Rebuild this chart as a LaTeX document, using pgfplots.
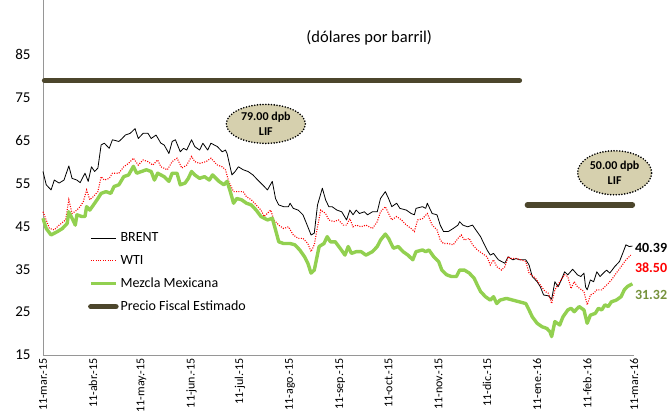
\documentclass[border=0pt]{standalone}
\usepackage{pgfplots}
\pgfplotsset{compat=1.18}
\usepackage{fontspec}
\setmainfont{Carlito}
\usetikzlibrary{shapes.geometric}
\definecolor{fiscal}{RGB}{76,70,44}
\definecolor{mezcla}{RGB}{146,208,80}
\definecolor{mezclatxt}{RGB}{118,146,60}
\definecolor{elfill}{RGB}{214,208,174}
\definecolor{axgray}{RGB}{150,150,150}
\begin{document}
\begin{tikzpicture}
\begin{axis}[
  width=591pt, height=355pt, scale only axis,
  xmin=0, xmax=366, ymin=15, ymax=97.8,
  axis x line=bottom, axis y line=left,
  axis line style={-, draw=axgray, line width=0.8pt},
  major tick length=0pt,
  ytick={15,25,...,85},
  /pgf/number format/assume math mode=true,
  yticklabel style={font=\fontsize{15}{18}\selectfont, xshift=-9pt},
  xtick={0,31,61,92,122,153,184,214,245,275,306,337,366},
  xticklabels={11-mar.-15,11-abr.-15,11-may.-15,11-jun.-15,11-jul.-15,11-ago.-15,11-sep.-15,11-oct.-15,11-nov.-15,11-dic.-15,11-ene.-16,11-feb.-16,11-mar.-16},
  xticklabel style={rotate=90, anchor=east, font=\fontsize{12}{14}\selectfont},
  clip=false,
  legend style={at={(0.076,0.35)}, anchor=north west, draw=none, fill=none,
    font=\fontsize{14}{16}\selectfont, row sep=8pt, inner sep=0pt,
    cells={anchor=west}},
  legend image code/.code={\draw[#1] (0pt,0pt) -- (25pt,0pt);},
]
\addplot[black, line width=0.8pt, line join=round] coordinates {
(0,57.8) (2,54.7) (5,53.5) (7,55.8) (10,55.1) (13,55.8) (16,59.1) (18,56.2) (21,55.8) (23,55.2)
(26,57.4) (28,55.5) (30,58.9) (32,57.8) (34,58.6) (36,64.0) (38,64.4) (41,63.2) (43,65.2) (47,64.8)
(49,65.5) (51,66.3) (54,66.7) (57,67.8) (59,65.5) (62,66.7) (65,66.7) (67,65.5) (70,66.3) (73,64.4)
(75,64.0) (78,62.0) (80,64.8) (82,65.2) (85,62.4) (87,63.2) (89,62.8) (92,65.2) (94,63.6) (97,62.8)
(99,64.4) (102,62.8) (104,64.4) (108,63.6) (111,62.4) (113,62.8) (114,62.0) (117,57.0) (119,57.8) (121,58.9)
(124,58.2) (127,57.8) (130,57.0) (133,55.8) (136,54.7) (139,53.5) (142,55.5) (144,51.5) (146,50.0) (149,49.6)
(152,49.6) (153,50.4) (155,49.2) (158,48.8) (161,47.7) (164,44.9) (166,43.0) (168,43.4) (170,50.0) (173,53.9)
(175,51.2) (177,49.6) (179,49.6) (182,48.8) (185,48.4) (188,46.5) (190,48.8) (192,47.7) (194,48.8) (196,48.0)
(199,48.4) (201,47.7) (204,48.4) (207,48.4) (209,51.5) (212,53.1) (214,51.5) (216,49.6) (219,50.4) (221,49.2)
(225,48.8) (228,48.0) (230,47.7) (231,49.2) (235,49.6) (237,49.2) (238,50.4) (241,48.0) (244,47.7) (246,45.3)
(248,43.8) (251,43.8) (254,44.5) (257,45.3) (258,46.1) (260,45.3) (263,44.9) (266,45.3) (268,44.2) (271,42.6)
(273,41.0) (275,39.5) (277,38.3) (279,38.7) (282,37.2) (286,36.4) (288,37.9) (291,37.2) (293,37.5) (295,37.2)
(299,37.2) (301,36.0) (303,33.3) (306,32.1) (308,30.9) (310,29.0) (313,28.8) (315,28.0) (317,32.1) (319,30.9)
(321,32.5) (323,34.4) (325,33.7) (328,35.0) (331,33.7) (333,33.3) (335,34.1) (336,30.9) (337,30.2) (339,32.5)
(341,32.1) (343,34.4) (345,33.3) (347,34.1) (349,34.8) (351,34.1) (354,35.6) (357,36.8) (359,38.7) (361,40.7)
(363,40.3) (365,40.4)
};
\addlegendentry{BRENT}
\addplot[red, line width=1.1pt, dash pattern=on 1pt off 1.4pt] coordinates {
(0,48.4) (2,46.5) (4,44.5) (7,44.2) (10,45.3) (14,46.5) (16,51.2) (18,48.0) (21,48.8) (23,49.6)
(25,50.8) (27,53.5) (29,51.2) (31,51.9) (34,53.1) (36,56.6) (38,55.8) (41,56.2) (43,57.4) (47,57.4)
(50,58.9) (53,59.7) (56,60.9) (59,59.3) (62,60.5) (65,60.1) (68,59.3) (71,60.5) (73,58.9) (77,58.2)
(80,60.1) (83,60.9) (86,58.6) (89,59.3) (92,61.3) (94,60.1) (97,59.7) (101,60.1) (104,60.9) (108,59.3)
(111,58.9) (113,58.2) (115,55.5) (118,53.1) (121,53.1) (124,53.1) (126,51.9) (129,51.2) (132,50.0) (135,48.8)
(137,47.3) (141,48.8) (143,46.5) (146,45.3) (149,44.5) (152,44.9) (155,43.0) (158,42.2) (161,42.2) (164,41.0)
(166,39.1) (168,40.7) (170,44.9) (172,48.8) (175,48.0) (177,46.5) (180,46.1) (183,46.5) (186,45.3) (188,45.3)
(190,46.8) (192,44.9) (194,45.3) (197,44.9) (200,45.3) (204,44.5) (207,46.1) (209,48.4) (212,49.6) (214,48.0)
(216,46.5) (219,47.3) (222,46.5) (225,45.3) (228,44.5) (230,43.8) (232,46.5) (235,46.8) (238,48.0) (241,45.3)
(244,44.2) (246,41.8) (248,41.0) (251,41.0) (254,40.7) (257,42.2) (259,43.0) (261,41.8) (264,42.2) (266,40.7)
(269,39.5) (272,38.7) (275,37.9) (277,36.0) (279,37.2) (281,35.6) (284,34.8) (286,35.6) (288,37.9) (290,37.5)
(293,37.5) (296,37.2) (299,36.8) (301,34.1) (305,32.9) (308,31.3) (311,29.8) (313,29.4) (315,27.0) (317,30.2)
(320,32.1) (323,33.7) (325,33.3) (327,30.5) (329,32.1) (331,30.9) (335,29.8) (337,26.7) (339,29.0) (341,29.4)
(343,30.2) (346,30.2) (349,31.3) (352,32.5) (355,34.1) (358,35.6) (361,37.2) (364,38.3)
};
\addlegendentry{WTI}
\addplot[mezcla, line width=3.4pt, line join=round] coordinates {
(0,46.9) (2,44.5) (5,43.0) (9,43.8) (12,44.5) (15,45.7) (16,48.4) (18,46.9) (20,45.3) (21,47.7)
(24,47.3) (26,47.3) (27,49.6) (29,48.8) (32,50.4) (34,51.5) (36,52.7) (39,53.1) (42,52.7) (44,54.3)
(47,54.7) (50,56.6) (53,57.0) (56,59.0) (58,57.4) (61,57.8) (64,58.2) (67,57.8) (69,55.8) (71,57.4)
(75,56.6) (78,55.5) (80,57.4) (83,57.4) (85,54.7) (88,55.1) (90,56.2) (92,57.8) (94,57.0) (97,56.2)
(100,56.6) (103,55.8) (105,57.0) (109,55.5) (112,54.7) (114,55.5) (116,53.1) (118,50.4) (120,51.5) (123,51.2)
(126,50.4) (129,50.0) (132,48.8) (135,47.3) (139,46.5) (142,46.9) (144,44.2) (146,41.4) (149,41.0) (153,41.0)
(156,40.7) (159,39.5) (162,37.9) (164,36.4) (166,34.1) (168,34.8) (171,40.3) (174,41.0) (176,42.6) (178,41.4)
(181,41.4) (184,39.9) (187,38.3) (189,40.3) (191,38.7) (194,39.1) (197,39.1) (200,38.3) (204,39.1) (207,40.3)
(209,41.8) (212,43.2) (214,42.2) (217,39.9) (220,40.3) (223,39.1) (226,38.3) (229,37.2) (231,39.1) (235,39.5)
(237,39.1) (239,39.5) (242,37.9) (245,36.8) (247,34.8) (250,33.7) (253,33.3) (256,33.3) (258,34.8) (261,34.8)
(264,34.1) (267,32.9) (269,31.3) (271,29.8) (274,28.6) (277,27.8) (279,28.6) (281,27.0) (283,27.8) (287,28.2)
(291,27.8) (295,27.4) (299,27.0) (301,25.5) (303,23.9) (306,22.4) (309,21.6) (312,21.2) (314,20.4) (315,19.3)
(317,22.8) (320,22.0) (322,23.9) (325,25.5) (327,25.9) (329,25.1) (332,26.3) (335,25.5) (337,22.4) (339,24.3)
(342,24.7) (344,25.9) (346,25.5) (348,26.7) (350,26.3) (352,27.4) (355,27.8) (358,28.6) (360,30.2) (362,31.0)
(365,31.6)
};
\addlegendentry{Mezcla Mexicana}
\addplot[fiscal, line width=5.5pt, line cap=round] coordinates {(1,79) (295,79)};
\addlegendentry{Precio Fiscal Estimado}
\addplot[fiscal, line width=5.5pt, line cap=round, forget plot] coordinates {(300,50) (365,50)};

\node[font=\fontsize{16.5}{19}\selectfont] at (axis cs:202,89) {(dólares por barril)};
\node[ellipse, draw=black, fill=elfill, line width=1.8pt, line cap=round,
  dash pattern=on 0pt off 2.8pt, minimum width=79pt, minimum height=39pt,
  inner sep=0pt, align=center, font=\bfseries\fontsize{12}{15}\selectfont]
  at (axis cs:138,68.9) {79.00 dpb\\LIF};
\node[ellipse, draw=black, fill=elfill, line width=1.8pt, line cap=round,
  dash pattern=on 0pt off 2.8pt, minimum width=74pt, minimum height=44pt,
  inner sep=0pt, align=center, font=\bfseries\fontsize{12}{15}\selectfont]
  at (axis cs:354,57.5) {50.00 dpb\\LIF};
\node[anchor=west, inner sep=0pt, font=\bfseries\fontsize{14}{16}\selectfont, text=black]
  at (axis cs:366.5,40.0) {40.39};
\node[anchor=west, inner sep=0pt, font=\bfseries\fontsize{14}{16}\selectfont, text=red]
  at (axis cs:366.5,35.4) {38.50};
\node[anchor=west, inner sep=0pt, font=\bfseries\fontsize{14}{16}\selectfont, text=mezclatxt]
  at (axis cs:366.5,29.0) {31.32};
\end{axis}
\pgfresetboundingbox
\path (-43pt,-62pt) rectangle (625pt,355pt);
\end{tikzpicture}
\end{document}
